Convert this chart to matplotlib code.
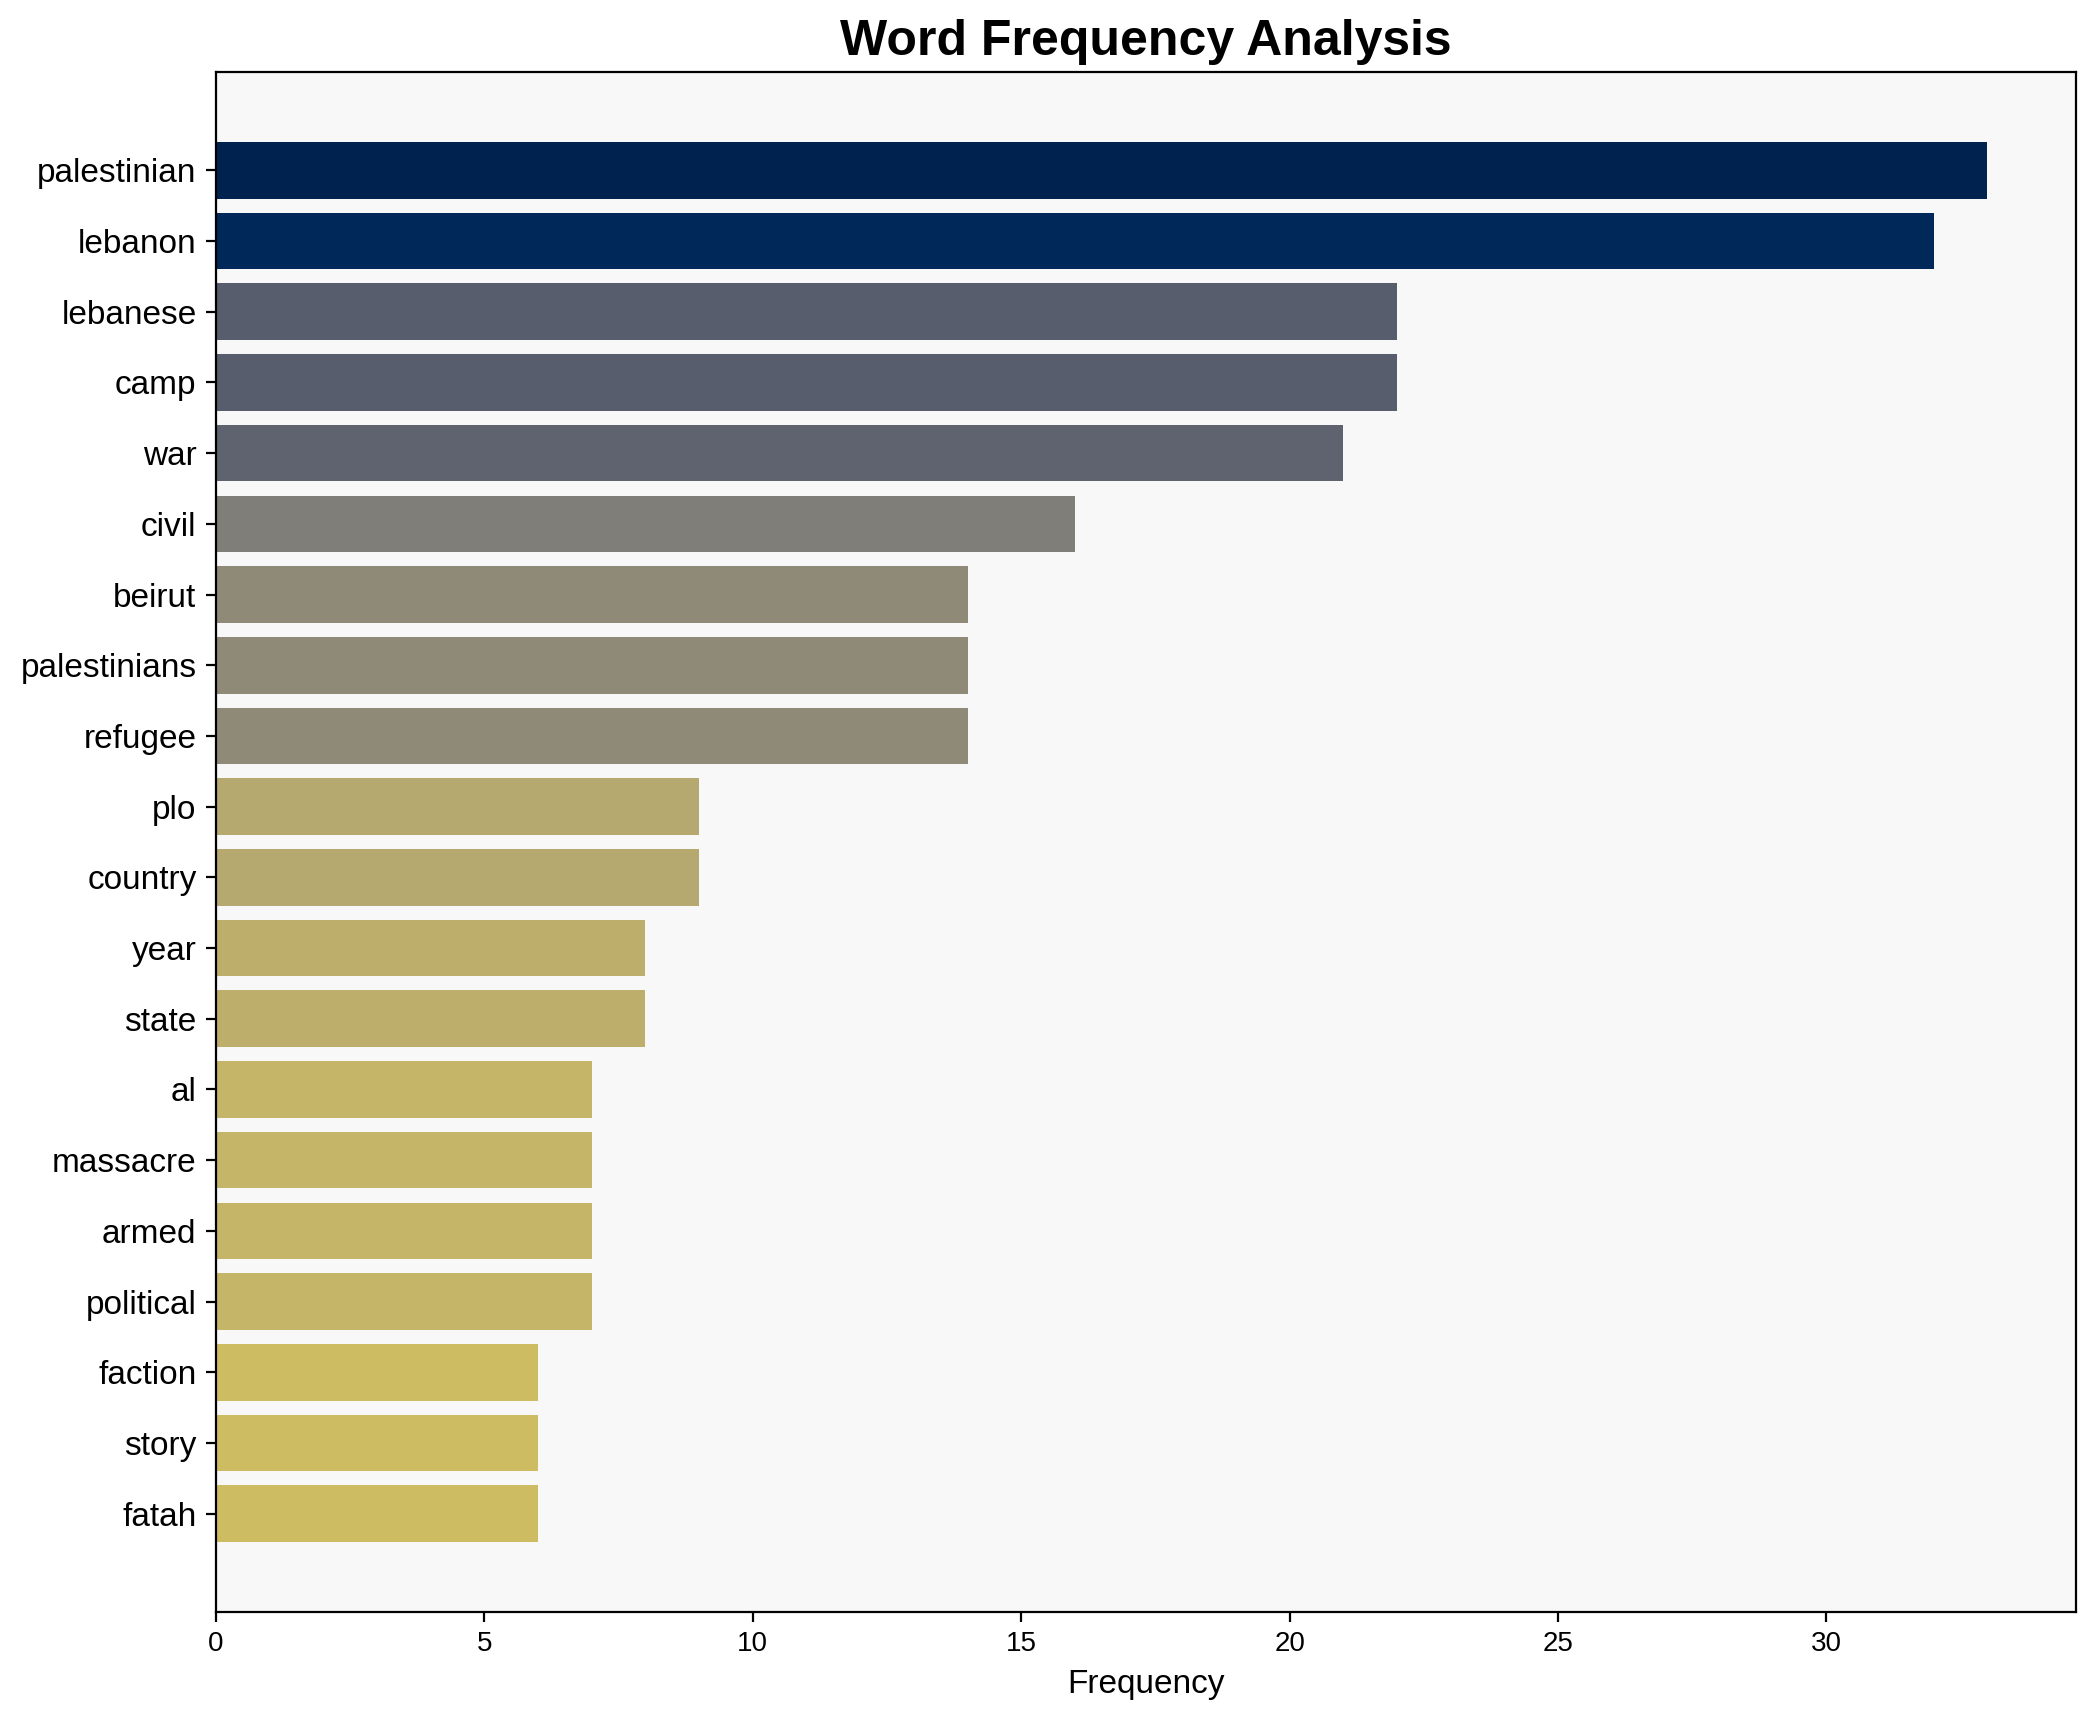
import numpy as np
import matplotlib.pyplot as plt

plt.rcParams['font.family'] = ['Liberation Sans', 'DejaVu Sans']

# word counts, most frequent first
words = ['palestinian', 'lebanon', 'lebanese', 'camp', 'war', 'civil', 'beirut',
         'palestinians', 'refugee', 'plo', 'country', 'year', 'state', 'al',
         'massacre', 'armed', 'political', 'faction', 'story', 'fatah']
counts = [33, 32, 22, 22, 21, 16, 14, 14, 14, 9, 9, 8, 8, 7, 7, 7, 7, 6, 6, 6]

counts_arr = np.array(counts)
colors = plt.cm.cividis(1 - counts_arr / counts_arr.max())

fig = plt.figure(figsize=(2095 / 200, 1722 / 200), dpi=200)
ax = fig.add_axes([216 / 2095, 1 - 1612 / 1722, (2076 - 216) / 2095, (1612 - 72) / 1722])
ax.set_facecolor('#f8f8f8')

y = np.arange(len(words))
ax.barh(y, counts, color=colors)
ax.set_yticks(y)
ax.set_yticklabels(words, fontsize=12)
ax.invert_yaxis()
ax.tick_params(axis='x', labelsize=10)

ax.set_xlabel('Frequency', fontsize=12)
ax.set_title('Word Frequency Analysis', fontsize=18, fontweight='bold')

fig.savefig('out.png', dpi=200)
